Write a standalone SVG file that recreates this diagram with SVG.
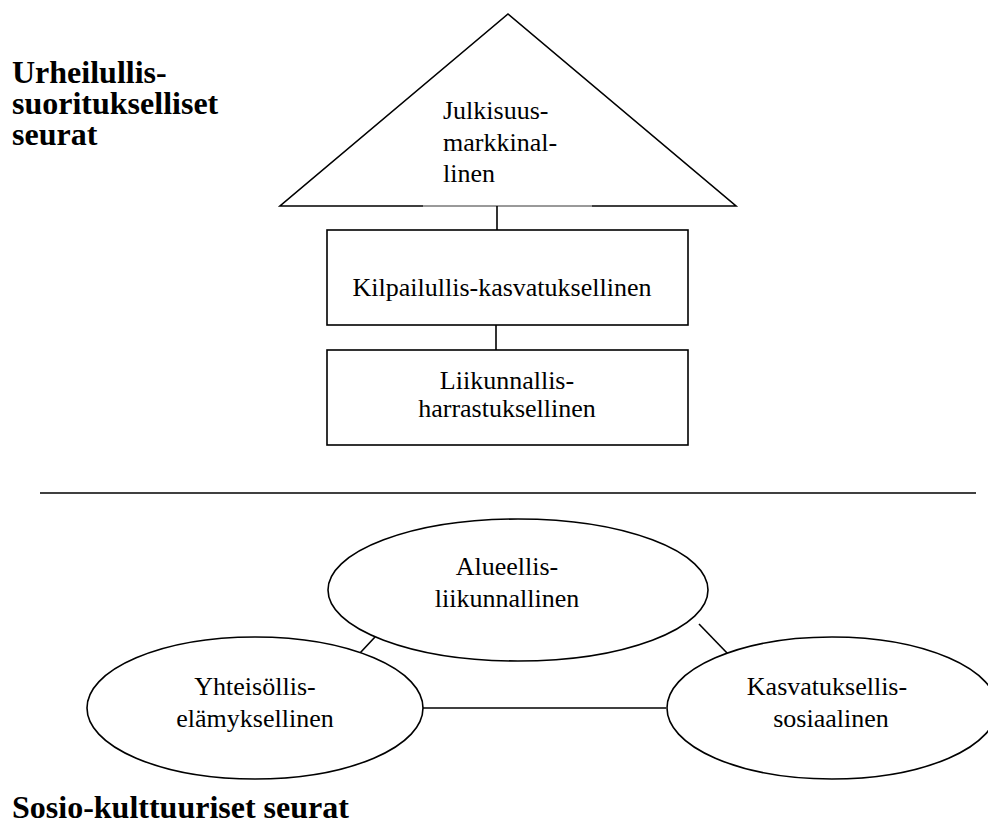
<svg xmlns="http://www.w3.org/2000/svg" width="988" height="825" viewBox="0 0 988 825">
<style>
.s{fill:none;stroke:#000;stroke-width:1.6}
.n{fill:#fff;stroke:#000;stroke-width:1.6}
.t{font-family:"Liberation Serif","Times New Roman",serif;font-size:26px;fill:#000}
.c{text-anchor:middle}
.h{font-family:"Liberation Serif","Times New Roman",serif;font-size:32px;font-weight:bold;fill:#000}
</style>
<rect width="988" height="825" fill="#fff"/>
<g id="heading-top">
<text class="h" x="12" y="83">Urheilullis-</text>
<text class="h" x="12" y="114">suoritukselliset</text>
<text class="h" x="12" y="145">seurat</text>
</g>
<g id="heading-bottom">
<text class="h" x="12" y="818">Sosio-kulttuuriset seurat</text>
</g>
<g id="separator">
<line class="s" x1="40" y1="493" x2="976" y2="493"/>
</g>
<g id="connectors">
<line class="s" x1="497" y1="206" x2="497" y2="230"/>
<line class="s" x1="496" y1="325" x2="496" y2="350"/>
<line class="s" x1="375" y1="637" x2="360" y2="653"/>
<line class="s" x1="699" y1="624" x2="728" y2="654"/>
<line class="s" x1="423" y1="708" x2="666" y2="708"/>
</g>
<g id="node-julkisuus">
<path class="s" d="M423 206 L280 206 L508 14 L736 206 L592 206"/>
<line x1="423" y1="206" x2="592" y2="206" stroke="#000" stroke-width="0.8"/>
<text class="t" x="443" y="119">Julkisuus-</text>
<text class="t" x="443" y="151">markkinal-</text>
<text class="t" x="443" y="182">linen</text>
</g>
<g id="node-kilpailullis">
<rect class="n" x="327" y="230" width="361" height="95"/>
<text class="t c" x="502" y="296">Kilpailullis-kasvatuksellinen</text>
</g>
<g id="node-liikunnallis">
<rect class="n" x="327" y="350" width="361" height="95"/>
<text class="t c" x="507" y="389">Liikunnallis-</text>
<text class="t c" x="507" y="417">harrastuksellinen</text>
</g>
<g id="node-alueellis">
<ellipse class="n" cx="518" cy="590" rx="190" ry="71"/>
<text class="t c" x="507" y="575">Alueellis-</text>
<text class="t c" x="507" y="607">liikunnallinen</text>
</g>
<g id="node-yhteisollis">
<ellipse class="n" cx="255" cy="708" rx="168" ry="71"/>
<text class="t c" x="255" y="695">Yhteisöllis-</text>
<text class="t c" x="255" y="727">elämyksellinen</text>
</g>
<g id="node-kasvatuksellis">
<ellipse class="n" cx="832" cy="708" rx="165" ry="71"/>
<text class="t c" x="827" y="695">Kasvatuksellis-</text>
<text class="t c" x="831" y="727">sosiaalinen</text>
</g>
</svg>
